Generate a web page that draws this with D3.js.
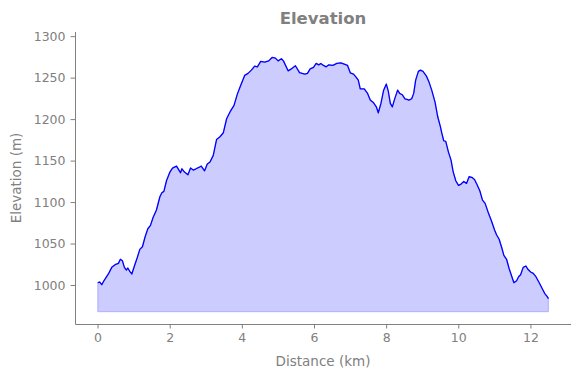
<!DOCTYPE html>
<html>
<head>
<meta charset="utf-8">
<script src="https://cdn.jsdelivr.net/npm/d3@7"></script>
<style>
  html, body { margin: 0; padding: 0; background: #fff; }
  svg { display: block; font-family: "DejaVu Sans", sans-serif; }
</style>
</head>
<body>
<svg id="chart" width="580" height="378"></svg>
<script>
// ---- data ----
const distanceKm = [0.006,0.061,0.117,0.189,0.300,0.394,0.486,0.578,0.633,0.689,0.744,0.800,0.839,0.894,0.950,1.022,1.097,1.172,1.244,1.319,1.394,1.467,1.542,1.633,1.728,1.783,1.839,1.911,2.006,2.078,2.189,2.244,2.300,2.339,2.411,2.506,2.578,2.653,2.728,2.839,2.875,2.967,3.042,3.117,3.208,3.300,3.394,3.486,3.578,3.689,3.783,3.875,3.967,4.078,4.172,4.264,4.356,4.431,4.522,4.633,4.744,4.839,4.931,5.006,5.097,5.153,5.283,5.375,5.486,5.600,5.744,5.819,5.894,5.986,6.061,6.133,6.189,6.264,6.339,6.411,6.522,6.633,6.744,6.839,6.931,7.006,7.097,7.172,7.228,7.283,7.394,7.486,7.561,7.653,7.728,7.783,7.856,7.931,8.006,8.061,8.117,8.172,8.244,8.319,8.375,8.450,8.522,8.578,8.633,8.708,8.764,8.819,8.894,8.950,9.022,9.117,9.189,9.264,9.356,9.431,9.506,9.542,9.597,9.653,9.728,9.800,9.856,9.931,10.006,10.078,10.153,10.228,10.300,10.375,10.450,10.522,10.597,10.672,10.744,10.839,10.931,11.006,11.061,11.133,11.208,11.264,11.339,11.411,11.486,11.542,11.617,11.672,11.728,11.800,11.875,11.931,12.006,12.078,12.153,12.244,12.319,12.394,12.467,12.500];
const elevationM = [1002.8,1003.6,1000.4,1006.0,1013.3,1021.3,1024.5,1026.1,1031.0,1029.3,1021.3,1018.1,1020.5,1016.5,1013.3,1022.9,1032.5,1043.0,1046.1,1058.2,1067.8,1071.9,1081.6,1090.4,1106.4,1111.2,1112.9,1125.7,1136.1,1141.0,1143.4,1139.4,1135.3,1140.1,1136.1,1132.9,1141.0,1138.6,1140.1,1142.5,1143.4,1137.7,1145.8,1148.2,1156.3,1175.5,1178.7,1183.5,1200.4,1210.0,1216.5,1230.1,1240.6,1252.7,1255.1,1259.0,1263.9,1263.0,1269.5,1268.7,1270.2,1274.3,1273.5,1270.2,1272.7,1270.2,1258.2,1260.6,1264.3,1256.0,1254.2,1255.1,1260.6,1262.3,1267.1,1265.4,1267.1,1264.7,1263.0,1265.4,1264.7,1267.1,1267.8,1266.3,1264.7,1255.8,1254.2,1250.2,1247.0,1236.5,1236.5,1231.0,1222.9,1219.6,1214.8,1207.6,1218.9,1234.9,1242.2,1233.4,1218.9,1214.8,1225.3,1234.9,1231.0,1229.3,1224.5,1223.7,1222.9,1224.5,1231.0,1247.0,1257.5,1259.0,1257.5,1251.8,1244.6,1234.9,1220.5,1202.8,1190.7,1183.5,1173.9,1173.1,1160.2,1150.6,1137.0,1125.7,1120.1,1121.7,1124.9,1122.5,1130.5,1129.8,1127.3,1120.8,1113.6,1102.4,1098.4,1086.4,1075.9,1066.3,1060.6,1055.1,1044.6,1035.8,1031.0,1019.6,1010.0,1002.8,1005.2,1010.0,1012.4,1021.3,1022.9,1018.9,1015.7,1014.1,1010.0,1002.8,996.4,990.0,985.9,983.5];
const fillBaseline = 968;
const xTicks = [0, 2, 4, 6, 8, 10, 12];
const yTicks = [1000, 1050, 1100, 1150, 1200, 1250, 1300];
const xDomain = [-0.625, 13.125];
const yDomain = [953, 1305];
const titleText = "Elevation";
const xLabelText = "Distance (km)";
const yLabelText = "Elevation (m)";

// ---- layout ----
const svg = d3.select("#chart");
const margin = { left: 75, right: 9, top: 32, bottom: 54 };
const W = 580, H = 378;
const x = d3.scaleLinear().domain(xDomain).range([margin.left, W - margin.right]);
const y = d3.scaleLinear().domain(yDomain).range([H - margin.bottom, margin.top]);
const grey = "#808080";

const data = distanceKm.map((d, i) => ({ d, e: elevationM[i] }));

const area = d3.area()
  .x(p => x(p.d))
  .y0(y(fillBaseline))
  .y1(p => y(p.e));

svg.append("path")
  .datum(data)
  .attr("d", area)
  .attr("fill", "rgb(204,204,255)")
  .attr("stroke", "rgba(0,0,255,0.2)")
  .attr("stroke-width", 1.2);

const line = d3.line().x(p => x(p.d)).y(p => y(p.e));
svg.append("path")
  .datum(data)
  .attr("d", line)
  .attr("fill", "none")
  .attr("stroke", "#0000ff")
  .attr("stroke-width", 1.3)
  .attr("stroke-linejoin", "round");

// axes
const xAxis = d3.axisBottom(x).tickValues(xTicks).tickFormat(d3.format("d")).tickSizeOuter(0).tickSize(4.5).tickPadding(5);
const yAxis = d3.axisLeft(y).tickValues(yTicks).tickFormat(d3.format("d")).tickSizeOuter(0).tickSize(4.5).tickPadding(5);

const gx = svg.append("g").attr("transform", `translate(0,${H - margin.bottom})`).call(xAxis);
const gy = svg.append("g").attr("transform", `translate(${margin.left},0)`).call(yAxis);

[gx, gy].forEach(g => {
  g.select(".domain").remove();
  g.selectAll(".tick line").attr("stroke", grey).attr("stroke-width", 1);
  g.selectAll(".tick text").attr("fill", grey).attr("font-size", 12.5).attr("font-family", "DejaVu Sans, sans-serif");
});

// spines (left and bottom only)
const bottomY = Math.round(H - margin.bottom) + 0.5;
const leftX = margin.left + 0.5;
svg.append("line")
  .attr("x1", leftX).attr("x2", leftX)
  .attr("y1", margin.top).attr("y2", bottomY)
  .attr("stroke", grey).attr("stroke-width", 1);
svg.append("line")
  .attr("x1", leftX).attr("x2", W - margin.right)
  .attr("y1", bottomY).attr("y2", bottomY)
  .attr("stroke", grey).attr("stroke-width", 1);

// labels
svg.append("text")
  .attr("x", (margin.left + W - margin.right) / 2)
  .attr("y", 366)
  .attr("text-anchor", "middle")
  .attr("fill", grey)
  .attr("font-size", 13.5)
  .text(xLabelText);

svg.append("text")
  .attr("transform", `translate(21,${(margin.top + H - margin.bottom) / 2}) rotate(-90)`)
  .attr("text-anchor", "middle")
  .attr("fill", grey)
  .attr("font-size", 13.5)
  .text(yLabelText);

svg.append("text")
  .attr("x", (margin.left + W - margin.right) / 2)
  .attr("y", 24)
  .attr("text-anchor", "middle")
  .attr("fill", grey)
  .attr("font-size", 16.5)
  .attr("font-weight", "bold")
  .text(titleText);
</script>
</body>
</html>
